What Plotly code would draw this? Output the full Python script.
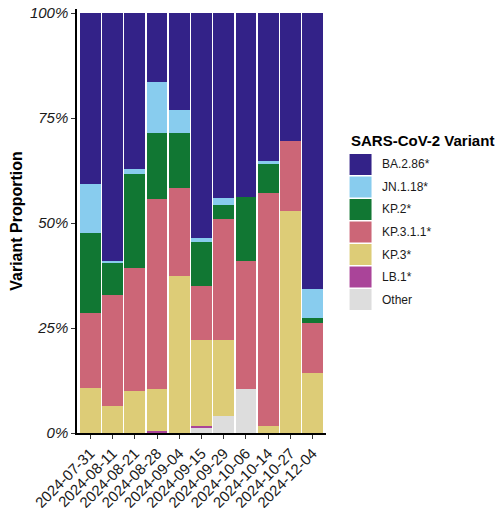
import plotly.graph_objects as go

dates = ["2024-07-31", "2024-08-11", "2024-08-21", "2024-08-28", "2024-09-04",
         "2024-09-15", "2024-09-29", "2024-10-06", "2024-10-14", "2024-10-27",
         "2024-12-04"]

variants = ["BA.2.86*", "JN.1.18*", "KP.2*", "KP.3.1.1*", "KP.3*", "LB.1*", "Other"]
colors = ["#332288", "#88CCEE", "#117733", "#CC6677", "#DDCC77", "#AA4499", "#DDDDDD"]

ba_2_86 = [40.7, 59.1, 37.1, 16.4, 23.1, 53.6, 44.0, 43.7, 35.3, 30.5, 65.6]
jn_1_18 = [11.6, 0.5, 1.2, 12.2, 5.5, 1.0, 1.7, 0.0, 0.7, 0.0, 7.1]
kp_2 = [19.2, 7.5, 22.5, 15.7, 13.1, 10.3, 3.4, 15.4, 6.9, 0.0, 1.0]
kp_3_1_1 = [17.7, 26.4, 29.1, 45.3, 20.8, 13.0, 28.8, 30.5, 55.5, 16.7, 12.1]
kp_3 = [10.8, 6.5, 10.1, 9.9, 37.5, 20.5, 18.0, 0.0, 1.6, 52.8, 14.2]
lb_1 = [0.0, 0.0, 0.0, 0.5, 0.0, 0.4, 0.0, 0.0, 0.0, 0.0, 0.0]
other = [0.0, 0.0, 0.0, 0.0, 0.0, 1.2, 4.1, 10.4, 0.0, 0.0, 0.0]

series = [ba_2_86, jn_1_18, kp_2, kp_3_1_1, kp_3, lb_1, other]

y_ticks = [0, 25, 50, 75, 100]
y_ticktext = ["0%", "25%", "50%", "75%", "100%"]

FONT = "Liberation Sans, Arial, sans-serif"
OFF = 8  # page body margin
W, H = 503 - OFF, 508 - OFF
# plot area in page pixels: left 77, right 326.4, top 9, bottom 433
ML = 77 - OFF
MT = 9 - OFF
MB = H - (433 - OFF)
MR = W - (326.4 - OFF)
PW = W - ML - MR
PH = H - MT - MB

fig = go.Figure()
# bottom-to-top stacking: reverse of legend order
for name, col, vals in reversed(list(zip(variants, colors, series))):
    fig.add_trace(go.Bar(x=dates, y=vals, name=name,
                         marker=dict(color=col, line=dict(width=0)),
                         showlegend=False))

def px_x(px):
    return (px - 77) / PW

def px_y(py):
    return (433 - py) / PH

# custom legend (large ggplot-like keys)
shapes = []
annotations = []
annotations.append(dict(text="<b>SARS-CoV-2 Variant</b>", xref="paper", yref="paper",
                        x=px_x(349), y=px_y(140), xanchor="left", yanchor="middle",
                        showarrow=False, font=dict(family=FONT, size=15, color="black")))
for i, (name, col) in enumerate(zip(variants, colors)):
    top = 154 + i * 22.5
    shapes.append(dict(type="rect", xref="paper", yref="paper",
                       x0=px_x(350), x1=px_x(372), y0=px_y(top + 21), y1=px_y(top),
                       fillcolor=col, line=dict(width=0)))
    annotations.append(dict(text=name, xref="paper", yref="paper",
                            x=px_x(380), y=px_y(top + 10.5), xanchor="left", yanchor="middle",
                            showarrow=False, font=dict(family=FONT, size=12, color="#1a1a1a")))

fig.update_layout(
    width=W, height=H,
    margin=dict(l=ML, r=MR, t=MT, b=MB, autoexpand=False),
    paper_bgcolor="white", plot_bgcolor="white",
    barmode="stack", bargap=0.07,
    font=dict(family=FONT, color="#1a1a1a"),
    shapes=shapes, annotations=annotations,
    xaxis=dict(type="category", range=[-0.6, 10.6], showgrid=False, zeroline=False,
               showline=True, linecolor="black", linewidth=1.5,
               ticks="outside", ticklen=4, tickwidth=1, tickcolor="#333333",
               ticklabeloverflow="allow",
               tickangle=-45, tickfont=dict(family=FONT, size=15, color="#1a1a1a")),
    yaxis=dict(range=[0, 101], showgrid=False, zeroline=False,
               showline=True, linecolor="black", linewidth=1.5,
               ticks="outside", ticklen=4, tickwidth=1, tickcolor="#333333",
               tickvals=y_ticks, ticktext=y_ticktext, ticklabeloverflow="allow",
               tickfont=dict(family=FONT, size=15, color="#1a1a1a", style="italic"),
               title=dict(text="<b>Variant Proportion</b>", standoff=6,
                          font=dict(family=FONT, size=16, color="black"))),
)

fig.write_html("out.html")
